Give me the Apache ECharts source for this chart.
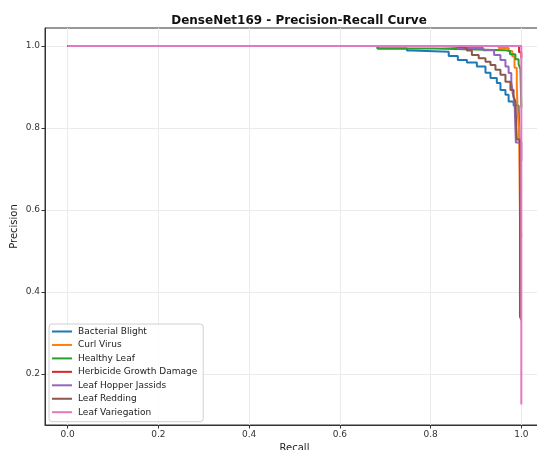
<!DOCTYPE html>
<html>
<head>
    <meta charset="utf-8">
    <title>DenseNet169 - Precision-Recall Curve</title>
    <script src="https://cdn.jsdelivr.net/npm/echarts@6/dist/echarts.min.js"></script>
    <style>
        html, body { margin: 0; padding: 0; background: #fff; }
        #chart { width: 537px; height: 450px; }
    </style>
</head>
<body>
    <div id="chart"></div>
    <script>
    // tick values
    const xTicks = [0.0, 0.2, 0.4, 0.6, 0.8, 1.0];
    const yTicks = [0.2, 0.4, 0.6, 0.8, 1.0];

    // class names + colours (matplotlib tab10)
    const classNames = ["Bacterial Blight", "Curl Virus", "Healthy Leaf", "Herbicide Growth Damage",
                        "Leaf Hopper Jassids", "Leaf Redding", "Leaf Variegation"];
    const classColors = ["#1f77b4", "#ff7f0e", "#2ca02c", "#d62728", "#9467bd", "#8c564b", "#e377c2"];

    // [recall, precision] points
    const bacterialBlight = [[0, 1.0], [0.683, 0.994], [0.748, 0.989], [0.759, 0.986], [0.84, 0.976],
        [0.86, 0.966], [0.88, 0.96], [0.902, 0.95], [0.921, 0.935], [0.932, 0.922], [0.946, 0.91],
        [0.954, 0.893], [0.965, 0.881], [0.972, 0.865], [0.983, 0.855], [0.994, 0.853],
        [0.996, 0.77], [1.0, 0.76]];
    const curlVirus = [[0, 1.0], [0.95, 0.995], [0.972, 0.988], [0.98, 0.975], [0.985, 0.947],
        [0.99, 0.903], [0.992, 0.838], [0.995, 0.8], [0.997, 0.6], [1.0, 0.535]];
    const healthyLeaf = [[0, 1.0], [0.683, 0.994], [0.81, 0.99], [0.965, 0.988], [0.975, 0.98],
        [0.987, 0.968], [0.994, 0.956], [0.998, 0.944], [1.0, 0.85]];
    const herbicideDamage = [[0, 1.0], [0.995, 0.985], [1.0, 0.97]];
    const leafHopper = [[0, 1.0], [0.86, 0.995], [0.916, 0.99], [0.94, 0.978], [0.954, 0.966],
        [0.965, 0.95], [0.972, 0.934], [0.978, 0.913], [0.981, 0.885], [0.985, 0.865],
        [0.988, 0.765], [1.0, 0.72]];
    const leafRedding = [[0, 1.0], [0.82, 0.997], [0.873, 0.995], [0.88, 0.989], [0.891, 0.978],
        [0.906, 0.97], [0.921, 0.962], [0.932, 0.954], [0.943, 0.942], [0.954, 0.93],
        [0.965, 0.913], [0.976, 0.893], [0.983, 0.877], [0.987, 0.865], [0.99, 0.772],
        [0.997, 0.34], [1.0, 0.332]];
    const leafVariegation = [[0, 1.0], [1.0, 1.0], [1.0, 0.126]];

    const classPoints = [bacterialBlight, curlVirus, healthyLeaf, herbicideDamage,
                         leafHopper, leafRedding, leafVariegation];

    const font = "DejaVu Sans";
    const gridColor = "#ebebeb";

    const option = {
        animation: false,
        backgroundColor: "#fff",
        title: {
            text: "DenseNet169 - Precision-Recall Curve",
            left: 294, textAlign: "center", top: 10,
            textStyle: { fontFamily: font, fontSize: 12, fontWeight: "bold", color: "#111" }
        },
        grid: {
            left: 45, top: 28, width: 499, height: 397,
            outerBoundsMode: "none", containLabel: false,
            show: true, borderColor: "#333", borderWidth: 1
        },
        legend: {
            orient: "vertical",
            left: 49, top: 324,
            padding: [2, 6, 4, 3],
            itemWidth: 20, itemHeight: 2, itemGap: 2.45,
            icon: "rect",
            backgroundColor: "rgba(255,255,255,0.85)",
            borderColor: "#d0d0d0", borderWidth: 1, borderRadius: 3,
            textStyle: { fontFamily: font, fontSize: 9, color: "#222", lineHeight: 11, padding: [0, 0, 0, 1] },
            data: classNames
        },
        xAxis: {
            type: "value", min: -0.05, max: 1.05,
            name: "Recall", nameLocation: "middle", nameGap: 18, nameMoveOverlap: false,
            nameTextStyle: { fontFamily: font, fontSize: 10, color: "#222" },
            axisLine: { show: true, onZero: false, lineStyle: { color: "#333" } },
            axisTick: { show: true, length: 3.5, customValues: xTicks, lineStyle: { color: "#333" } },
            axisLabel: { fontFamily: font, fontSize: 9, color: "#333", margin: 5, customValues: xTicks,
                         formatter: v => v.toFixed(1) },
            splitLine: { show: true, lineStyle: { color: gridColor, width: 1 } }
        },
        yAxis: {
            type: "value", min: 0.076, max: 1.044,
            name: "Precision", nameLocation: "middle", nameGap: 26, nameMoveOverlap: false,
            nameTextStyle: { fontFamily: font, fontSize: 10, color: "#222" },
            axisLine: { show: true, onZero: false, lineStyle: { color: "#333" } },
            axisTick: { show: true, length: 3.5, customValues: yTicks, lineStyle: { color: "#333" } },
            axisLabel: { fontFamily: font, fontSize: 9, color: "#333", margin: 5, customValues: yTicks,
                         formatter: v => v.toFixed(1) },
            splitLine: { show: true, lineStyle: { color: gridColor, width: 1 } }
        },
        series: classNames.map((name, i) => ({
            name: name,
            type: "line",
            step: "end",
            showSymbol: false,
            symbol: "none",
            data: classPoints[i],
            itemStyle: { color: classColors[i] },
            lineStyle: { color: classColors[i], width: 2 },
            z: 2 + i
        }))
    };

    window.onload = function() {
        const chart = echarts.init(document.getElementById('chart'));
        chart.setOption(option);
    };
    </script>
</body>
</html>
